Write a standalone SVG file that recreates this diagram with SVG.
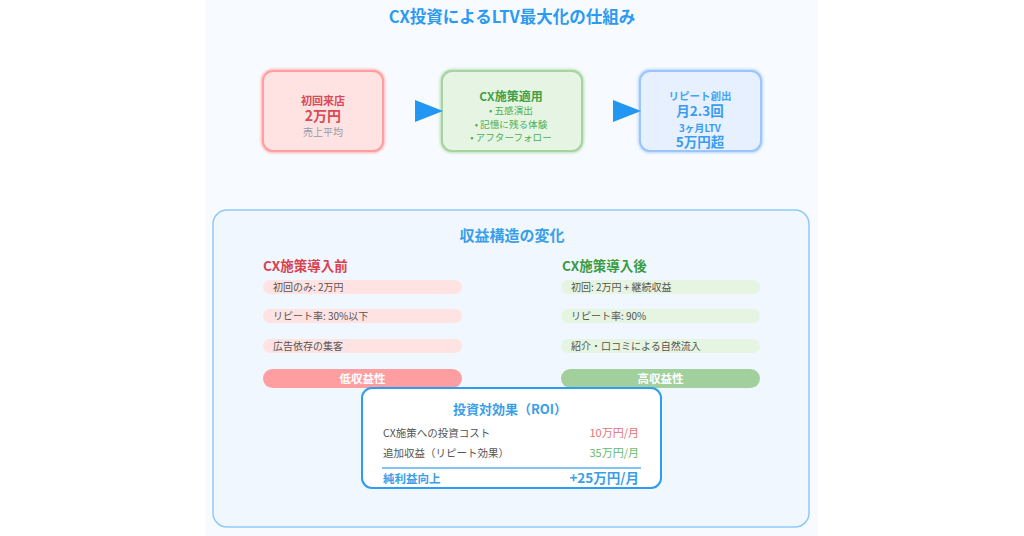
<svg xmlns="http://www.w3.org/2000/svg" width="1024" height="536" viewBox="0 0 1024 536">
<defs>
<style>
text{font-family:"Noto Sans CJK JP","Noto Sans",sans-serif;}
.c{text-anchor:middle;}
.r{text-anchor:end;}
.b{font-weight:bold;}
.item{font-size:10px;fill:#555;}
.rowt{font-size:10.5px;fill:#555;}
</style>
<filter id="glow" x="-20%" y="-20%" width="140%" height="140%">
<feGaussianBlur stdDeviation="1.5"/>
</filter>
</defs>
<rect x="0" y="0" width="1024" height="536" fill="#ffffff"/>
<rect x="205" y="0" width="613" height="536" fill="#f7fbff"/>
<text x="512" y="23" class="c b" font-size="16.5" fill="#2b9af0">CX投資によるLTV最大化の仕組み</text>

<g id="node-first">
<rect x="263" y="71" width="120" height="80" rx="10" fill="none" stroke="#ff9a9a" stroke-width="3" filter="url(#glow)"/>
<rect x="263" y="71" width="120" height="80" rx="10" fill="#ffe3e3" stroke="#ff9fa0" stroke-width="2"/>
<text x="323" y="105" class="c b" font-size="11" fill="#d94a56">初回来店</text>
<text x="323" y="121" class="c b" font-size="14" fill="#d94a56">2万円</text>
<text x="323" y="136" class="c" font-size="10" fill="#9a9aa6">売上平均</text>
</g>

<g id="node-cx">
<rect x="442" y="71" width="140" height="80" rx="10" fill="none" stroke="#a5d6a0" stroke-width="3" filter="url(#glow)"/>
<rect x="442" y="71" width="140" height="80" rx="10" fill="#e6f5e3" stroke="#a5d49e" stroke-width="2"/>
<text x="511" y="101" class="c b" font-size="12" fill="#43a047">CX施策適用</text>
<text x="511" y="114" class="c" font-size="9.6" fill="#4caf50">• 五感演出</text>
<text x="511" y="127.5" class="c" font-size="9.6" fill="#4caf50">• 記憶に残る体験</text>
<text x="511" y="141" class="c" font-size="9.6" fill="#4caf50">• アフターフォロー</text>
</g>

<g id="node-repeat">
<rect x="640" y="71" width="121" height="80" rx="10" fill="none" stroke="#9cc8ff" stroke-width="3" filter="url(#glow)"/>
<rect x="640" y="71" width="121" height="80" rx="10" fill="#e6f0ff" stroke="#9cc5fb" stroke-width="2"/>
<text x="700" y="100" class="c b" font-size="10.5" fill="#42a5f5">リピート創出</text>
<text x="700" y="116" class="c b" font-size="13.5" fill="#3a9cf0">月2.3回</text>
<text x="700" y="131.5" class="c b" font-size="9.8" fill="#3a9cf0">3ヶ月LTV</text>
<text x="700" y="146.5" class="c b" font-size="13.5" fill="#3a9cf0">5万円超</text>
</g>

<g id="connectors">
<polygon points="415,100 443,111 415,122" fill="#2196f3"/>
<polygon points="613,100 641,111 613,122" fill="#2196f3"/>
</g>

<g id="revenue-structure">
<rect x="213" y="210" width="596" height="317" rx="14" fill="#f0f7fe" stroke="#90caf9" stroke-width="1.5"/>
<text x="512" y="240.5" class="c b" font-size="15" fill="#3a9ee8">収益構造の変化</text>
</g>

<g id="before">
<text x="263" y="270.5" class="b" font-size="13.5" fill="#d9434f">CX施策導入前</text>
<rect x="263" y="280" width="199" height="14" rx="7" fill="#ffe3e3"/>
<text x="273" y="290.8" class="item">初回のみ: 2万円</text>
<rect x="263" y="309" width="199" height="14" rx="7" fill="#ffe3e3"/>
<text x="273" y="319.8" class="item">リピート率: 30%以下</text>
<rect x="263" y="339" width="199" height="14" rx="7" fill="#ffe3e3"/>
<text x="273" y="349.8" class="item">広告依存の集客</text>
<rect x="263" y="369" width="199" height="19" rx="9.5" fill="#ff9ea0"/>
<text x="362.5" y="382.8" class="c b" font-size="11.5" fill="#ffffff">低収益性</text>
</g>

<g id="after">
<text x="562" y="270.5" class="b" font-size="13.5" fill="#3c9c45">CX施策導入後</text>
<rect x="561" y="280" width="199" height="14" rx="7" fill="#e6f4e2"/>
<text x="571" y="290.8" class="item">初回: 2万円 + 継続収益</text>
<rect x="561" y="309" width="199" height="14" rx="7" fill="#e6f4e2"/>
<text x="571" y="319.8" class="item">リピート率: 90%</text>
<rect x="561" y="339" width="199" height="14" rx="7" fill="#e6f4e2"/>
<text x="571" y="349.8" class="item">紹介・口コミによる自然流入</text>
<rect x="561" y="369" width="199" height="19" rx="9.5" fill="#a2d09c"/>
<text x="660.5" y="382.8" class="c b" font-size="11.5" fill="#ffffff">高収益性</text>
</g>

<g id="roi">
<rect x="362" y="388" width="299" height="100" rx="10" fill="#ffffff" stroke="#2e9cf0" stroke-width="2"/>
<text x="510" y="413.5" class="c b" font-size="13" fill="#3a9ee8">投資対効果（ROI）</text>
<text x="383" y="437" class="rowt">CX施策への投資コスト</text>
<text x="639" y="437" class="r" font-size="11" fill="#e57373">10万円/月</text>
<text x="383" y="457" class="rowt">追加収益（リピート効果）</text>
<text x="639" y="457" class="r" font-size="11" fill="#66bb6a">35万円/月</text>
<line x1="382" y1="468" x2="641" y2="468" stroke="#5ab0f0" stroke-width="1.5"/>
<text x="383" y="482.5" class="b" font-size="11.5" fill="#3a9ee8">純利益向上</text>
<text x="639" y="483" class="r b" font-size="13.5" fill="#3a9ee8">+25万円/月</text>
</g>
</svg>
